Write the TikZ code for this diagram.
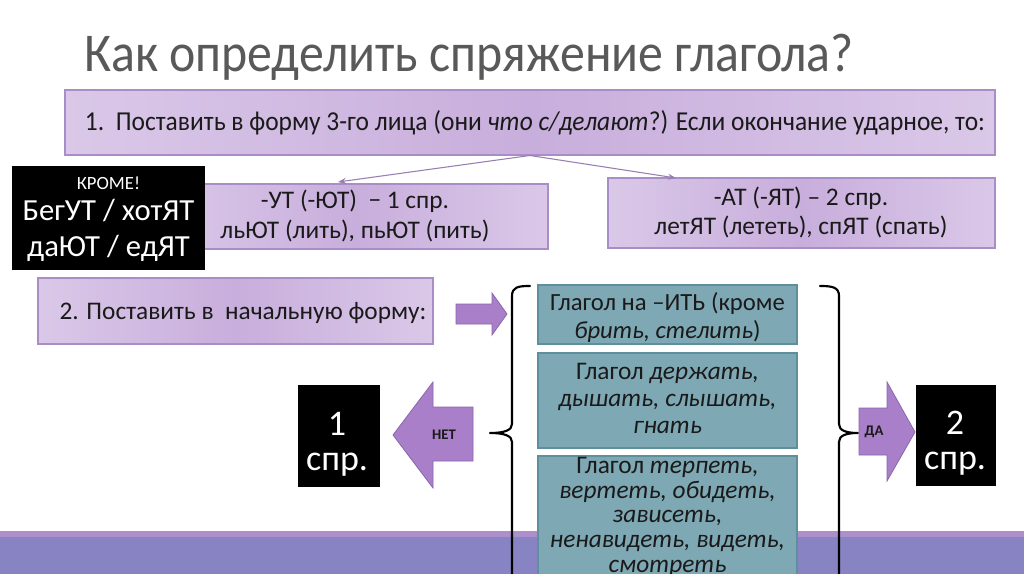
\documentclass[tikz,border=0pt]{standalone}
\usepackage{fontspec}
\setmainfont{Carlito}
\usetikzlibrary{fit,arrows.meta}
\definecolor{pl}{HTML}{DAC8E8}
\definecolor{pm}{HTML}{C8AEDC}
\definecolor{pb}{HTML}{A98DC6}
\definecolor{tealf}{HTML}{7EA8B4}
\definecolor{tealb}{HTML}{5E8F9C}
\definecolor{arrf}{HTML}{A97FC9}
\definecolor{arrb}{HTML}{8A66AC}
\definecolor{stripe}{HTML}{AD8FCC}
\definecolor{band}{HTML}{8884C4}
\definecolor{titlegray}{HTML}{595959}
\definecolor{txt}{HTML}{1A1A1A}
\newcommand\hfitto[2]{\resizebox{#1}{\height}{#2}}
\begin{document}
\begin{tikzpicture}[x=0.75pt,y=-0.75pt,
  pbox/.style={draw=pb, line width=0.8pt, left color=pl, right color=pl, middle color=pm, inner sep=0pt},
  tbox/.style={draw=tealb, line width=0.8pt, fill=tealf, inner sep=0pt},
  kbox/.style={fill=black, inner sep=0pt},
  conn/.style={draw=pb!90!black, line width=0.8pt, -{Stealth[length=6pt,width=4.5pt]}},
  barrow/.style={draw=arrb, line width=0.6pt, fill=arrf},
  brace/.style={draw=black, line width=1.6pt, line cap=round, line join=round},
  lbl/.style={inner sep=0pt, text=txt, align=center, anchor=base},
  body/.style={font=\fontsize{19pt}{21.75pt}\selectfont},
  tbody/.style={font=\fontsize{19pt}{20.25pt}\selectfont},
  wlbl/.style={inner sep=0pt, text=white, align=center, anchor=base}
]
\clip (0,0) rectangle (1024,574);
\fill[white] (0,0) rectangle (1024,574);
% bottom band
\fill[stripe] (0,531) rectangle (1024,537);
\fill[band] (0,537) rectangle (1024,574);
% title
\node[anchor=base west, inner sep=0pt, text=titlegray, font=\fontsize{41pt}{48pt}\selectfont] (title) at (84,72) {\hfitto{577pt}{Как определить спряжение глагола?}};
% step 1
\node[pbox, fit={(65,90) (995,155)}] (s1) {};
\node[lbl, font=\fontsize{20.5pt}{24pt}\selectfont] (s1t) at (535,131) {\hfitto{675pt}{1.\ \ Поставить в форму 3-го лица (они \textit{что с/делают}?) Если окончание ударное, то:}};
% row
\node[pbox, fit={(162,184) (548,249)}] (ut) {};
\node[lbl, body] (utt) at (355,238) {-УТ (-ЮТ) \ − 1 спр.\\ льЮТ (лить), пьЮТ (пить)};
\node[kbox, fit={(12,166) (205,270)}] (krome) {};
\node[wlbl, font=\fontsize{14pt}{16pt}\selectfont] (kr1) at (108.5,190) {КРОМЕ!};
\node[wlbl, font=\fontsize{23pt}{26pt}\selectfont] (kr2) at (108.5,220) {БегУТ / хотЯТ};
\node[wlbl, font=\fontsize{23pt}{26pt}\selectfont] (kr3) at (108.5,256) {даЮТ / едЯТ};
\node[pbox, fit={(608,178) (995,248)}] (at) {};
\node[lbl, body] (att) at (801,234.5) {-АТ (-ЯТ) – 2 спр.\\ летЯТ (лететь), спЯТ (спать)};
\coordinate (j) at (530,155.5);
\coordinate (jl) at (338,182);
\coordinate (jr) at (676,178);
\draw[conn] (j) -- (jl);
\draw[conn] (j) -- (jr);
% step 2
\node[pbox, fit={(38,278) (433,344)}] (s2) {};
\node[lbl, body] (s2t) at (243,319) {2. Поставить в \ начальную форму:};
\draw[barrow] (456,304) -- (492,304) -- (492,293) -- (507,314) -- (492,335) -- (492,324) -- (456,324) -- cycle;
% teal boxes
\node[tbox, fit={(538,285) (797,344)}] (ta) {};
\node[lbl, font=\fontsize{18.5pt}{21pt}\selectfont] (tat) at (667.5,338) {Глагол на –ИТЬ (кроме\\ \textit{брить, стелить})};
\node[tbox, fit={(538,353) (797,448)}] (tb) {};
\node[lbl, tbody] (tbt) at (667.5,433) {Глагол \textit{держать,}\\ \textit{дышать, слышать,}\\ \textit{гнать}};
\node[tbox, fit={(538,456) (797,600)}] (tc) {};
\node[lbl, font=\fontsize{19pt}{18.5pt}\selectfont] (tct) at (667.5,572) {Глагол \textit{терпеть,}\\ \textit{вертеть, обидеть,}\\ \textit{зависеть,}\\ \textit{ненавидеть, видеть,}\\ \textit{смотреть}};
% braces
\draw[brace] (530,286) .. controls (518,286) and (512,287) .. (512,296) -- (512,424) .. controls (512,430) and (505,433) .. (490,433) .. controls (505,433) and (512,436) .. (512,442) -- (512,600);
\draw[brace] (820,286) .. controls (832,286) and (839,287) .. (839,296) -- (839,424) .. controls (839,430) and (845,433) .. (858,433) .. controls (845,433) and (839,436) .. (839,442) -- (839,600);
% NET / DA arrows
\draw[barrow] (393,435) -- (433,382) -- (433,407) -- (473,407) -- (473,461) -- (433,461) -- (433,488) -- cycle;
\node[inner sep=0pt, text=txt, font=\bfseries\fontsize{11pt}{13pt}\selectfont] (net) at (444,435) {НЕТ};
\draw[barrow] (859,408) -- (887,408) -- (887,382) -- (915,432) -- (887,481) -- (887,455) -- (859,455) -- cycle;
\node[inner sep=0pt, text=txt, font=\bfseries\fontsize{11pt}{13pt}\selectfont] (da) at (874,432) {ДА};
% result boxes
\node[kbox, fit={(298,385) (380,487)}] (c1) {};
\node[wlbl, font=\fontsize{27pt}{26pt}\selectfont] (c1t) at (337,470) {1\\ спр.};
\node[kbox, fit={(916,385) (996,486)}] (c2) {};
\node[wlbl, font=\fontsize{27pt}{26pt}\selectfont] (c2t) at (955,469) {2\\ спр.};
\end{tikzpicture}
\end{document}
